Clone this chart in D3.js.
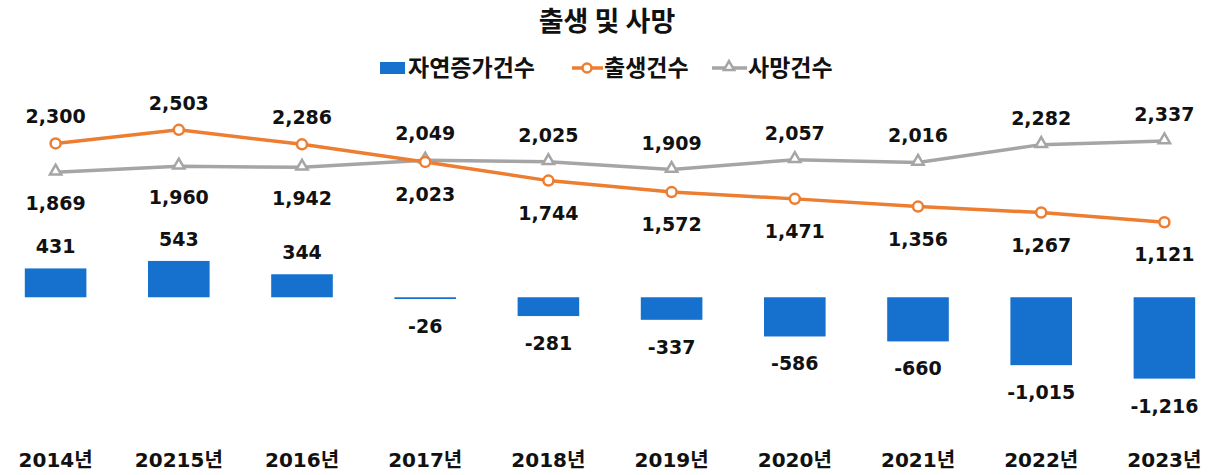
<!DOCTYPE html>
<html>
<head>
<meta charset="utf-8">
<script src="https://cdn.jsdelivr.net/npm/d3@7"></script>
<style>
  body { margin: 0; background: #fff; }
  text { font-family: "DejaVu Sans", "Noto Sans CJK KR", sans-serif; font-weight: bold; fill: #111; }
  .kr { font-family: "Noto Sans CJK KR", sans-serif; }
</style>
</head>
<body>
<div id="chart"></div>
<script>
var width = 1220
var height = 475

// data
var years = ["2014년", "20215년", "2016년", "2017년", "2018년", "2019년", "2020년", "2021년", "2022년", "2023년"]
var natural = [431, 543, 344, -26, -281, -337, -586, -660, -1015, -1216]
var births = [2300, 2503, 2286, 2023, 1744, 1572, 1471, 1356, 1267, 1121]
var deaths = [1869, 1960, 1942, 2049, 2025, 1909, 2057, 2016, 2282, 2337]
// label above (true) or below (false) the point
var birthsAbove = [true, true, true, false, false, false, false, false, false, false]
var deathsAbove = [false, false, false, true, true, true, true, true, true, true]

var barColor = "#1570CE"
var birthColor = "#ED7D31"
var deathColor = "#A5A5A5"
var fmt = function(v) { return d3.format(",")(v).replace("−", "-") }

var x = d3.scaleBand()
    .domain(years)
    .range([-6, 1226])
    .paddingInner(0.5)
    .paddingOuter(0.25)
var y = d3.scaleLinear()
    .domain([-1500, 3000])
    .range([397.6, 96.6])

var svg = d3.select("#chart").append("svg")
    .attr("width", width).attr("height", height)

var cx = function(i) { return x(years[i]) + x.bandwidth() / 2 }

// title
svg.append("text")
    .attr("class", "kr")
    .attr("x", 607).attr("y", 31)
    .attr("text-anchor", "middle")
    .style("font-size", "27px")
    .text("출생 및 사망")

// legend
var lg = svg.append("g").attr("transform", "translate(0,68)")
lg.append("rect").attr("x", 380).attr("y", -6).attr("width", 25).attr("height", 12).attr("fill", barColor)
lg.append("text").attr("class", "kr").attr("x", 408).attr("y", 8).style("font-size", "23px").text("자연증가건수")
lg.append("line").attr("x1", 572).attr("x2", 603).attr("y1", 0).attr("y2", 0)
    .attr("stroke", birthColor).attr("stroke-width", 3.5)
lg.append("circle").attr("cx", 587).attr("cy", 0).attr("r", 4.5)
    .attr("fill", "#fff").attr("stroke", birthColor).attr("stroke-width", 2.5)
lg.append("text").attr("class", "kr").attr("x", 604).attr("y", 8).style("font-size", "23px").text("출생건수")
lg.append("line").attr("x1", 712).attr("x2", 747).attr("y1", 0).attr("y2", 0)
    .attr("stroke", deathColor).attr("stroke-width", 3.5)
lg.append("path").attr("d", d3.symbol(d3.symbolTriangle, 45)())
    .attr("transform", "translate(729,-1)")
    .attr("fill", "#fff").attr("stroke", deathColor).attr("stroke-width", 2.5)
lg.append("text").attr("class", "kr").attr("x", 748).attr("y", 8).style("font-size", "23px").text("사망건수")

// bars
svg.selectAll("rect.bar")
    .data(natural)
    .enter()
    .append("rect")
    .attr("class", "bar")
    .attr("x", function(d, i) { return x(years[i]) })
    .attr("width", x.bandwidth())
    .attr("y", function(d) { return Math.min(y(d), y(0)) })
    .attr("height", function(d) { return Math.max(Math.abs(y(d) - y(0)), 1.5) })
    .attr("fill", barColor)

svg.selectAll("text.barlab")
    .data(natural)
    .enter()
    .append("text")
    .attr("class", "barlab")
    .attr("x", function(d, i) { return cx(i) })
    .attr("y", function(d) { return d >= 0 ? y(d) - 15 : y(d) + 34 })
    .attr("text-anchor", "middle")
    .style("font-size", "19px")
    .text(function(d) { return fmt(d) })

// lines
var line = d3.line()
    .x(function(d, i) { return cx(i) })
    .y(function(d) { return y(d) })

svg.append("path").datum(deaths)
    .attr("d", line).attr("fill", "none")
    .attr("stroke", deathColor).attr("stroke-width", 3.5)
svg.append("path").datum(births)
    .attr("d", line).attr("fill", "none")
    .attr("stroke", birthColor).attr("stroke-width", 3.5)

svg.selectAll("path.tri")
    .data(deaths)
    .enter()
    .append("path")
    .attr("class", "tri")
    .attr("d", d3.symbol(d3.symbolTriangle, 55)())
    .attr("transform", function(d, i) { return "translate(" + cx(i) + "," + (y(d) - 1) + ")" })
    .attr("fill", "#fff").attr("stroke", deathColor).attr("stroke-width", 2.5)

svg.selectAll("circle.dot")
    .data(births)
    .enter()
    .append("circle")
    .attr("class", "dot")
    .attr("cx", function(d, i) { return cx(i) })
    .attr("cy", function(d) { return y(d) })
    .attr("r", 5)
    .attr("fill", "#fff").attr("stroke", birthColor).attr("stroke-width", 2.5)

svg.selectAll("text.birthlab")
    .data(births)
    .enter()
    .append("text")
    .attr("class", "birthlab")
    .attr("x", function(d, i) { return cx(i) })
    .attr("y", function(d, i) { return birthsAbove[i] ? y(d) - 20 : y(d) + 39 })
    .attr("text-anchor", "middle")
    .style("font-size", "19px")
    .text(function(d) { return fmt(d) })

svg.selectAll("text.deathlab")
    .data(deaths)
    .enter()
    .append("text")
    .attr("class", "deathlab")
    .attr("x", function(d, i) { return cx(i) })
    .attr("y", function(d, i) { return deathsAbove[i] ? y(d) - 20 : y(d) + 38 })
    .attr("text-anchor", "middle")
    .style("font-size", "19px")
    .text(function(d) { return fmt(d) })

// x labels
svg.append("g")
    .attr("transform", "translate(0,445)")
    .call(d3.axisBottom(x).tickSize(0).tickPadding(8))
    .call(function(g) { g.select(".domain").remove() })
    .selectAll("text")
    .style("font-size", "20px")
    .style("font-family", "\"DejaVu Sans\", \"Noto Sans CJK KR\", sans-serif")
    .style("font-weight", "bold")
    .attr("fill", "#111")
</script>
</body>
</html>
